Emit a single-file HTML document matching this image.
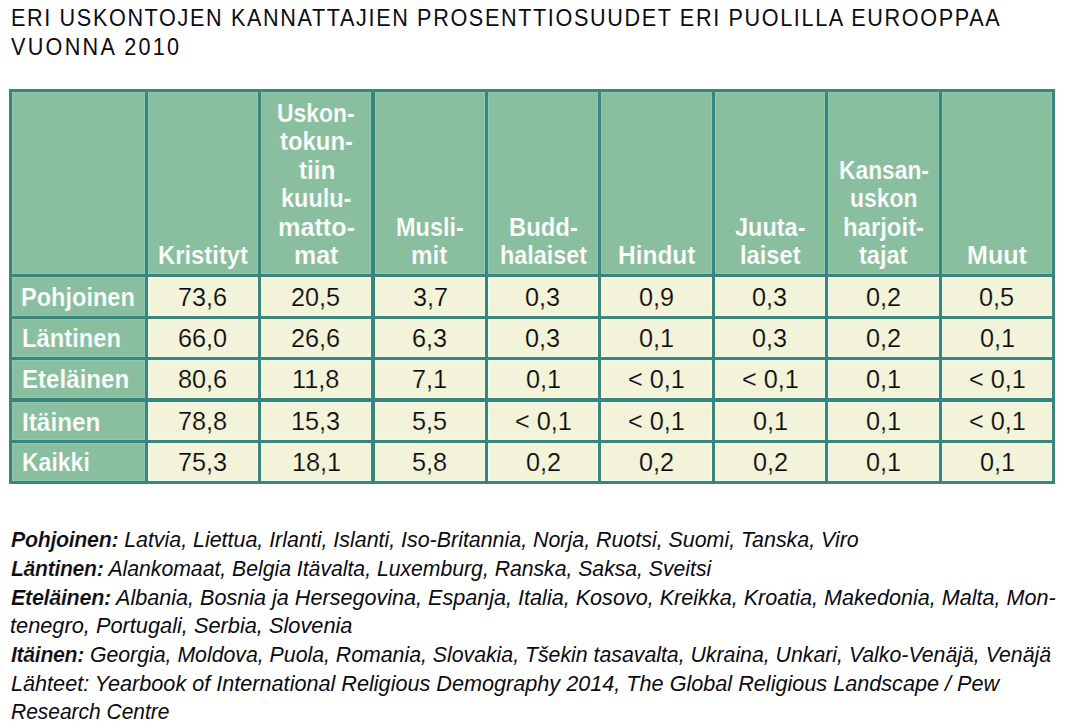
<!DOCTYPE html>
<html><head><meta charset="utf-8"><style>
html,body{margin:0;padding:0;background:#fff;}
body{width:1065px;height:728px;position:relative;overflow:hidden;font-family:"Liberation Sans",sans-serif;}
div{position:absolute;}
.s{white-space:nowrap;transform-origin:0 0;line-height:1;}
.ln{background:#3a867f;}
.w{-webkit-text-stroke:0.2px #89bf9f;}
.dd{-webkit-text-stroke:0.18px #f3f3d9;}
.fb b{-webkit-text-stroke:0.2px #fff;letter-spacing:-0.35px;}
</style></head><body>

<div style="left:9px;top:89px;width:1046px;height:395px;background:#89bf9f"></div>
<div style="left:145px;top:274px;width:910px;height:210px;background:#f3f3d9"></div>
<div style="left:12px;top:89px;width:1px;height:185px;background:#8cc9b0"></div>
<div style="left:12px;top:274px;width:1px;height:210px;background:#8cc9b0"></div>
<div style="left:144px;top:89px;width:1px;height:185px;background:#8cc9b0"></div>
<div style="left:144px;top:274px;width:1px;height:210px;background:#8cc9b0"></div>
<div style="left:148px;top:89px;width:1px;height:185px;background:#8cc9b0"></div>
<div style="left:148px;top:274px;width:1px;height:210px;background:#edfbea"></div>
<div style="left:257px;top:89px;width:1px;height:185px;background:#8cc9b0"></div>
<div style="left:257px;top:274px;width:1px;height:210px;background:#edfbea"></div>
<div style="left:261px;top:89px;width:1px;height:185px;background:#8cc9b0"></div>
<div style="left:261px;top:274px;width:1px;height:210px;background:#edfbea"></div>
<div style="left:370.3px;top:89px;width:1px;height:185px;background:#8cc9b0"></div>
<div style="left:370.3px;top:274px;width:1px;height:210px;background:#edfbea"></div>
<div style="left:375.0px;top:89px;width:1px;height:185px;background:#8cc9b0"></div>
<div style="left:375.0px;top:274px;width:1px;height:210px;background:#edfbea"></div>
<div style="left:484px;top:89px;width:1px;height:185px;background:#8cc9b0"></div>
<div style="left:484px;top:274px;width:1px;height:210px;background:#edfbea"></div>
<div style="left:488px;top:89px;width:1px;height:185px;background:#8cc9b0"></div>
<div style="left:488px;top:274px;width:1px;height:210px;background:#edfbea"></div>
<div style="left:597px;top:89px;width:1px;height:185px;background:#8cc9b0"></div>
<div style="left:597px;top:274px;width:1px;height:210px;background:#edfbea"></div>
<div style="left:601px;top:89px;width:1px;height:185px;background:#8cc9b0"></div>
<div style="left:601px;top:274px;width:1px;height:210px;background:#edfbea"></div>
<div style="left:711px;top:89px;width:1px;height:185px;background:#8cc9b0"></div>
<div style="left:711px;top:274px;width:1px;height:210px;background:#edfbea"></div>
<div style="left:715px;top:89px;width:1px;height:185px;background:#8cc9b0"></div>
<div style="left:715px;top:274px;width:1px;height:210px;background:#edfbea"></div>
<div style="left:824px;top:89px;width:1px;height:185px;background:#8cc9b0"></div>
<div style="left:824px;top:274px;width:1px;height:210px;background:#edfbea"></div>
<div style="left:828px;top:89px;width:1px;height:185px;background:#8cc9b0"></div>
<div style="left:828px;top:274px;width:1px;height:210px;background:#edfbea"></div>
<div style="left:938px;top:89px;width:1px;height:185px;background:#8cc9b0"></div>
<div style="left:938px;top:274px;width:1px;height:210px;background:#edfbea"></div>
<div style="left:942px;top:89px;width:1px;height:185px;background:#8cc9b0"></div>
<div style="left:942px;top:274px;width:1px;height:210px;background:#edfbea"></div>
<div style="left:1051px;top:89px;width:1px;height:185px;background:#8cc9b0"></div>
<div style="left:1051px;top:274px;width:1px;height:210px;background:#edfbea"></div>
<div style="left:9px;top:92px;width:136px;height:1px;background:#8cc9b0"></div>
<div style="left:145px;top:92px;width:910px;height:1px;background:#8cc9b0"></div>
<div style="left:9px;top:273px;width:136px;height:1px;background:#8cc9b0"></div>
<div style="left:145px;top:273px;width:910px;height:1px;background:#8cc9b0"></div>
<div style="left:9px;top:277px;width:136px;height:1px;background:#8cc9b0"></div>
<div style="left:145px;top:277px;width:910px;height:1px;background:#edfbea"></div>
<div style="left:9px;top:315px;width:136px;height:1px;background:#8cc9b0"></div>
<div style="left:145px;top:315px;width:910px;height:1px;background:#edfbea"></div>
<div style="left:9px;top:319px;width:136px;height:1px;background:#8cc9b0"></div>
<div style="left:145px;top:319px;width:910px;height:1px;background:#edfbea"></div>
<div style="left:9px;top:356px;width:136px;height:1px;background:#8cc9b0"></div>
<div style="left:145px;top:356px;width:910px;height:1px;background:#edfbea"></div>
<div style="left:9px;top:360px;width:136px;height:1px;background:#8cc9b0"></div>
<div style="left:145px;top:360px;width:910px;height:1px;background:#edfbea"></div>
<div style="left:9px;top:397px;width:136px;height:1px;background:#8cc9b0"></div>
<div style="left:145px;top:397px;width:910px;height:1px;background:#edfbea"></div>
<div style="left:9px;top:401.6px;width:136px;height:1px;background:#8cc9b0"></div>
<div style="left:145px;top:401.6px;width:910px;height:1px;background:#edfbea"></div>
<div style="left:9px;top:439px;width:136px;height:1px;background:#8cc9b0"></div>
<div style="left:145px;top:439px;width:910px;height:1px;background:#edfbea"></div>
<div style="left:9px;top:443px;width:136px;height:1px;background:#8cc9b0"></div>
<div style="left:145px;top:443px;width:910px;height:1px;background:#edfbea"></div>
<div style="left:9px;top:480px;width:136px;height:1px;background:#8cc9b0"></div>
<div style="left:145px;top:480px;width:910px;height:1px;background:#edfbea"></div>
<div class="ln" style="left:9px;top:89px;width:1046px;height:3px"></div>
<div class="ln" style="left:9px;top:274px;width:1046px;height:3px"></div>
<div class="ln" style="left:9px;top:316px;width:1046px;height:3px"></div>
<div class="ln" style="left:9px;top:357px;width:1046px;height:3px"></div>
<div class="ln" style="left:9px;top:398px;width:1046px;height:3.6px"></div>
<div class="ln" style="left:9px;top:440px;width:1046px;height:3px"></div>
<div class="ln" style="left:9px;top:481px;width:1046px;height:3px"></div>
<div class="ln" style="left:9px;top:89px;width:3px;height:395px"></div>
<div class="ln" style="left:145px;top:89px;width:3px;height:395px"></div>
<div class="ln" style="left:258px;top:89px;width:3px;height:395px"></div>
<div class="ln" style="left:371.3px;top:89px;width:3.6px;height:395px"></div>
<div class="ln" style="left:485px;top:89px;width:3px;height:395px"></div>
<div class="ln" style="left:598px;top:89px;width:3px;height:395px"></div>
<div class="ln" style="left:712px;top:89px;width:3px;height:395px"></div>
<div class="ln" style="left:825px;top:89px;width:3px;height:395px"></div>
<div class="ln" style="left:939px;top:89px;width:3px;height:395px"></div>
<div class="ln" style="left:1052px;top:89px;width:3px;height:395px"></div>
<div class="s" style="left:10.75px;top:6.08px;font-size:24px;letter-spacing:1.827px;color:#0b0b10;transform:scaleX(0.9000)">ERI USKONTOJEN KANNATTAJIEN PROSENTTIOSUUDET ERI PUOLILLA EUROOPPAA</div>
<div class="s" style="left:11.30px;top:35.18px;font-size:24px;letter-spacing:2.539px;color:#0b0b10;transform:scaleX(0.9000)">VUONNA 2010</div>
<div class="s w" style="left:157.75px;top:243.04px;font-size:25px;font-weight:bold;color:#fff;transform:scaleX(0.9529)">Kristityt</div>
<div class="s w" style="left:277.19px;top:100.54px;font-size:25px;font-weight:bold;color:#fff;transform:scaleX(0.9148)">Uskon-</div>
<div class="s w" style="left:279.90px;top:129.04px;font-size:25px;font-weight:bold;color:#fff;transform:scaleX(0.9561)">tokun-</div>
<div class="s w" style="left:298.70px;top:157.54px;font-size:25px;font-weight:bold;color:#fff;transform:scaleX(0.9719)">tiin</div>
<div class="s w" style="left:281.06px;top:186.04px;font-size:25px;font-weight:bold;color:#fff;transform:scaleX(0.9394)">kuulu-</div>
<div class="s w" style="left:277.79px;top:214.54px;font-size:25px;font-weight:bold;color:#fff;transform:scaleX(1.0086)">matto-</div>
<div class="s w" style="left:293.90px;top:243.04px;font-size:25px;font-weight:bold;color:#fff;transform:scaleX(0.9993)">mat</div>
<div class="s w" style="left:396.16px;top:214.54px;font-size:25px;font-weight:bold;color:#fff;transform:scaleX(0.9395)">Musli-</div>
<div class="s w" style="left:411.33px;top:243.04px;font-size:25px;font-weight:bold;color:#fff;transform:scaleX(0.9711)">mit</div>
<div class="s w" style="left:509.15px;top:214.54px;font-size:25px;font-weight:bold;color:#fff;transform:scaleX(0.9539)">Budd-</div>
<div class="s w" style="left:499.67px;top:243.04px;font-size:25px;font-weight:bold;color:#fff;transform:scaleX(0.9334)">halaiset</div>
<div class="s w" style="left:617.92px;top:243.04px;font-size:25px;font-weight:bold;color:#fff;transform:scaleX(0.9783)">Hindut</div>
<div class="s w" style="left:735.00px;top:214.54px;font-size:25px;font-weight:bold;color:#fff;transform:scaleX(0.9401)">Juuta-</div>
<div class="s w" style="left:739.75px;top:243.04px;font-size:25px;font-weight:bold;color:#fff;transform:scaleX(0.9481)">laiset</div>
<div class="s w" style="left:838.79px;top:157.54px;font-size:25px;font-weight:bold;color:#fff;transform:scaleX(0.9115)">Kansan-</div>
<div class="s w" style="left:850.18px;top:186.04px;font-size:25px;font-weight:bold;color:#fff;transform:scaleX(0.9152)">uskon</div>
<div class="s w" style="left:843.34px;top:214.54px;font-size:25px;font-weight:bold;color:#fff;transform:scaleX(0.9569)">harjoit-</div>
<div class="s w" style="left:858.80px;top:243.04px;font-size:25px;font-weight:bold;color:#fff;transform:scaleX(0.9428)">tajat</div>
<div class="s w" style="left:966.90px;top:243.04px;font-size:25px;font-weight:bold;color:#fff;transform:scaleX(1.0039)">Muut</div>
<div class="s w" style="left:21.36px;top:285.24px;font-size:25px;font-weight:bold;color:#fff;transform:scaleX(0.9422)">Pohjoinen</div>
<div class="s w" style="left:21.75px;top:326.34px;font-size:25px;font-weight:bold;color:#fff;transform:scaleX(0.9500)">Läntinen</div>
<div class="s w" style="left:21.74px;top:367.14px;font-size:25px;font-weight:bold;color:#fff;transform:scaleX(0.9644)">Eteläinen</div>
<div class="s w" style="left:21.73px;top:409.64px;font-size:25px;font-weight:bold;color:#fff;transform:scaleX(0.9732)">Itäinen</div>
<div class="s w" style="left:21.78px;top:450.14px;font-size:25px;font-weight:bold;color:#fff;transform:scaleX(0.9204)">Kaikki</div>
<div class="s dd" style="left:178.03px;top:284.81px;font-size:25.5px;color:#0b0b10;transform:scaleX(0.9900)">73,6</div>
<div class="s dd" style="left:291.18px;top:284.81px;font-size:25.5px;color:#0b0b10;transform:scaleX(0.9900)">20,5</div>
<div class="s dd" style="left:412.69px;top:284.81px;font-size:25.5px;color:#0b0b10;transform:scaleX(0.9900)">3,7</div>
<div class="s dd" style="left:525.05px;top:284.81px;font-size:25.5px;color:#0b0b10;transform:scaleX(0.9900)">0,3</div>
<div class="s dd" style="left:639.04px;top:284.81px;font-size:25.5px;color:#0b0b10;transform:scaleX(0.9900)">0,9</div>
<div class="s dd" style="left:752.05px;top:284.81px;font-size:25.5px;color:#0b0b10;transform:scaleX(0.9900)">0,3</div>
<div class="s dd" style="left:866.04px;top:284.81px;font-size:25.5px;color:#0b0b10;transform:scaleX(0.9900)">0,2</div>
<div class="s dd" style="left:979.05px;top:284.81px;font-size:25.5px;color:#0b0b10;transform:scaleX(0.9900)">0,5</div>
<div class="s dd" style="left:178.03px;top:325.91px;font-size:25.5px;color:#0b0b10;transform:scaleX(0.9900)">66,0</div>
<div class="s dd" style="left:291.18px;top:325.91px;font-size:25.5px;color:#0b0b10;transform:scaleX(0.9900)">26,6</div>
<div class="s dd" style="left:411.70px;top:325.91px;font-size:25.5px;color:#0b0b10;transform:scaleX(0.9900)">6,3</div>
<div class="s dd" style="left:525.05px;top:325.91px;font-size:25.5px;color:#0b0b10;transform:scaleX(0.9900)">0,3</div>
<div class="s dd" style="left:639.04px;top:325.91px;font-size:25.5px;color:#0b0b10;transform:scaleX(0.9900)">0,1</div>
<div class="s dd" style="left:752.05px;top:325.91px;font-size:25.5px;color:#0b0b10;transform:scaleX(0.9900)">0,3</div>
<div class="s dd" style="left:866.04px;top:325.91px;font-size:25.5px;color:#0b0b10;transform:scaleX(0.9900)">0,2</div>
<div class="s dd" style="left:979.54px;top:325.91px;font-size:25.5px;color:#0b0b10;transform:scaleX(0.9900)">0,1</div>
<div class="s dd" style="left:178.03px;top:366.71px;font-size:25.5px;color:#0b0b10;transform:scaleX(0.9900)">80,6</div>
<div class="s dd" style="left:292.11px;top:366.71px;font-size:25.5px;color:#0b0b10;transform:scaleX(0.9900)">11,8</div>
<div class="s dd" style="left:412.19px;top:366.71px;font-size:25.5px;color:#0b0b10;transform:scaleX(0.9900)">7,1</div>
<div class="s dd" style="left:525.54px;top:366.71px;font-size:25.5px;color:#0b0b10;transform:scaleX(0.9900)">0,1</div>
<div class="s dd" style="left:628.16px;top:366.71px;font-size:25.5px;color:#0b0b10;transform:scaleX(0.9900)">&lt; 0,1</div>
<div class="s dd" style="left:741.66px;top:366.71px;font-size:25.5px;color:#0b0b10;transform:scaleX(0.9900)">&lt; 0,1</div>
<div class="s dd" style="left:866.04px;top:366.71px;font-size:25.5px;color:#0b0b10;transform:scaleX(0.9900)">0,1</div>
<div class="s dd" style="left:968.66px;top:366.71px;font-size:25.5px;color:#0b0b10;transform:scaleX(0.9900)">&lt; 0,1</div>
<div class="s dd" style="left:178.03px;top:409.21px;font-size:25.5px;color:#0b0b10;transform:scaleX(0.9900)">78,8</div>
<div class="s dd" style="left:291.18px;top:409.21px;font-size:25.5px;color:#0b0b10;transform:scaleX(0.9900)">15,3</div>
<div class="s dd" style="left:411.70px;top:409.21px;font-size:25.5px;color:#0b0b10;transform:scaleX(0.9900)">5,5</div>
<div class="s dd" style="left:514.66px;top:409.21px;font-size:25.5px;color:#0b0b10;transform:scaleX(0.9900)">&lt; 0,1</div>
<div class="s dd" style="left:628.16px;top:409.21px;font-size:25.5px;color:#0b0b10;transform:scaleX(0.9900)">&lt; 0,1</div>
<div class="s dd" style="left:752.54px;top:409.21px;font-size:25.5px;color:#0b0b10;transform:scaleX(0.9900)">0,1</div>
<div class="s dd" style="left:866.04px;top:409.21px;font-size:25.5px;color:#0b0b10;transform:scaleX(0.9900)">0,1</div>
<div class="s dd" style="left:968.66px;top:409.21px;font-size:25.5px;color:#0b0b10;transform:scaleX(0.9900)">&lt; 0,1</div>
<div class="s dd" style="left:178.03px;top:449.71px;font-size:25.5px;color:#0b0b10;transform:scaleX(0.9900)">75,3</div>
<div class="s dd" style="left:291.67px;top:449.71px;font-size:25.5px;color:#0b0b10;transform:scaleX(0.9900)">18,1</div>
<div class="s dd" style="left:411.70px;top:449.71px;font-size:25.5px;color:#0b0b10;transform:scaleX(0.9900)">5,8</div>
<div class="s dd" style="left:525.54px;top:449.71px;font-size:25.5px;color:#0b0b10;transform:scaleX(0.9900)">0,2</div>
<div class="s dd" style="left:639.04px;top:449.71px;font-size:25.5px;color:#0b0b10;transform:scaleX(0.9900)">0,2</div>
<div class="s dd" style="left:752.54px;top:449.71px;font-size:25.5px;color:#0b0b10;transform:scaleX(0.9900)">0,2</div>
<div class="s dd" style="left:866.04px;top:449.71px;font-size:25.5px;color:#0b0b10;transform:scaleX(0.9900)">0,1</div>
<div class="s dd" style="left:979.54px;top:449.71px;font-size:25.5px;color:#0b0b10;transform:scaleX(0.9900)">0,1</div>
<div class="s fb" style="left:11.30px;top:528.18px;font-size:22.7px;font-style:italic;color:#0b0b10;transform:scaleX(0.9426)"><b>Pohjoinen:</b> Latvia, Liettua, Irlanti, Islanti, Iso-Britannia, Norja, Ruotsi, Suomi, Tanska, Viro</div>
<div class="s fb" style="left:11.30px;top:556.85px;font-size:22.7px;font-style:italic;color:#0b0b10;transform:scaleX(0.9336)"><b>Läntinen:</b> Alankomaat, Belgia Itävalta, Luxemburg, Ranska, Saksa, Sveitsi</div>
<div class="s fb" style="left:11.30px;top:585.52px;font-size:22.7px;font-style:italic;color:#0b0b10;transform:scaleX(0.9516)"><b>Eteläinen:</b> Albania, Bosnia ja Hersegovina, Espanja, Italia, Kosovo, Kreikka, Kroatia, Makedonia, Malta, Mon-</div>
<div class="s fb" style="left:10.34px;top:614.19px;font-size:22.7px;font-style:italic;color:#0b0b10;transform:scaleX(0.9595)">tenegro, Portugali, Serbia, Slovenia</div>
<div class="s fb" style="left:11.30px;top:642.86px;font-size:22.7px;font-style:italic;color:#0b0b10;transform:scaleX(0.9375)"><b>Itäinen:</b> Georgia, Moldova, Puola, Romania, Slovakia, Tšekin tasavalta, Ukraina, Unkari, Valko-Venäjä, Venäjä</div>
<div class="s fb" style="left:11.30px;top:671.53px;font-size:22.7px;font-style:italic;color:#0b0b10;transform:scaleX(0.9535)">Lähteet: Yearbook of International Religious Demography 2014, The Global Religious Landscape / Pew</div>
<div class="s fb" style="left:11.30px;top:700.20px;font-size:22.7px;font-style:italic;color:#0b0b10;transform:scaleX(0.9240)">Research Centre</div>
</body></html>
